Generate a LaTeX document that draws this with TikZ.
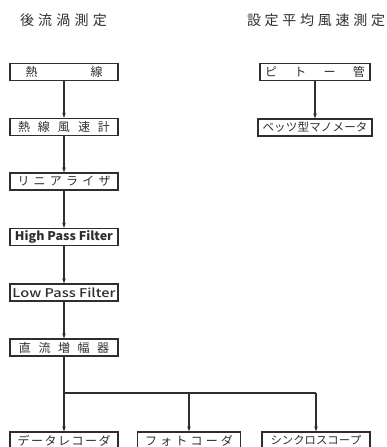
\documentclass[tikz,border=0pt]{standalone}
\usepackage{fontspec}
\newfontfamily\jp{Noto Sans CJK JP}
\newfontfamily\jpm{Noto Sans CJK JP Medium}
\usetikzlibrary{arrows.meta}
\definecolor{ink}{HTML}{2E2E2E}
\newcommand{\spr}[2]{\makebox[#1pt][s]{#2}}
\newcommand{\wide}[2]{\resizebox{#1pt}{\height}{#2}}
\tikzset{
  box/.style={draw=ink, line width=1.1pt, minimum height=17pt, inner sep=0pt,
    text=ink, font=\jp\fontsize{12}{12}\selectfont},
  ttl/.style={inner sep=0pt, text=ink, font=\jp\fontsize{14}{14}\selectfont},
  arr/.style={draw=ink, line width=1.1pt, -{Stealth[length=5pt,width=3.5pt]}},
  ln/.style={draw=ink, line width=1.1pt}
}
\begin{document}
\begin{tikzpicture}[x=1pt,y=-1pt]
\useasboundingbox (0,0) rectangle (387,447);
\clip (0,0) rectangle (387,447);
% titles
\node[ttl] (t1) at (63.5,20) {\spr{87}{後\hfil 流\hfil 渦\hfil 測\hfil 定}};
\node[ttl] (t2) at (316,20) {\spr{138}{設\hfil 定\hfil 平\hfil 均\hfil 風\hfil 速\hfil 測\hfil 定}};
% left column
\node[box, minimum width=108pt] (n1) at (64,72) {\spr{77}{熱\hfil 線}};
\node[box, minimum width=108pt] (n2) at (64,127) {\spr{92}{熱\hfil 線\hfil 風\hfil 速\hfil 計}};
\node[box, minimum width=108pt] (n3) at (64,181.5) {\spr{93}{リ\hfil ニ\hfil ア\hfil ラ\hfil イ\hfil ザ}};
\node[box, minimum width=108pt] (n4) at (64,237) {\wide{98}{\bfseries High Pass Filter}};
\node[box, minimum width=108pt] (n5) at (64,292.5) {\wide{103}{\jpm Low Pass Filter}};
\node[box, minimum width=108pt] (n6) at (64,347.5) {\spr{90}{直\hfil 流\hfil 増\hfil 幅\hfil 器}};
% bottom row
\node[box, minimum width=108pt] (b1) at (64,440.5) {\spr{93}{デ\hfil ー\hfil タ\hfil レ\hfil コ\hfil ー\hfil ダ}};
\node[box, minimum width=103pt] (b2) at (189,440.5) {\spr{88}{フ\hfil ォ\hfil ト\hfil コ\hfil ー\hfil ダ}};
\node[box, minimum width=108pt, font=\jp\fontsize{11.3}{11.3}\selectfont] (b3) at (316,440.5) {\spr{91}{シ\hfil ン\hfil ク\hfil ロ\hfil ス\hfil コ\hfil ー\hfil プ}};
% right column
\node[box, minimum width=110pt] (r1) at (315,72) {\spr{100}{ピ\hfil ト\hfil ー\hfil 管}};
\node[box, minimum width=114pt, font=\jp\fontsize{11.5}{11.5}\selectfont] (r2) at (315,127.5) {\spr{105}{ベ\hfil ッ\hfil ツ\hfil 型\hfil マ\hfil ノ\hfil メ\hfil ー\hfil タ}};
% connectors
\draw[arr] (n1) -- (n2);
\draw[arr] (n2) -- (n3);
\draw[arr] (n3) -- (n4);
\draw[arr] (n4) -- (n5);
\draw[arr] (n5) -- (n6);
\draw[arr] (r1) -- (r2);
\coordinate (j1) at (64,393);
\coordinate (j2) at (b2.north |- j1);
\coordinate (j3) at (b3.north |- j1);
\draw[ln] (n6.south) -- (j1) -- (j3);
\draw[arr] (j1) -- (b1.north);
\draw[arr] (j2) -- (b2.north);
\draw[arr] (j3) -- (b3.north);
\end{tikzpicture}
\end{document}
